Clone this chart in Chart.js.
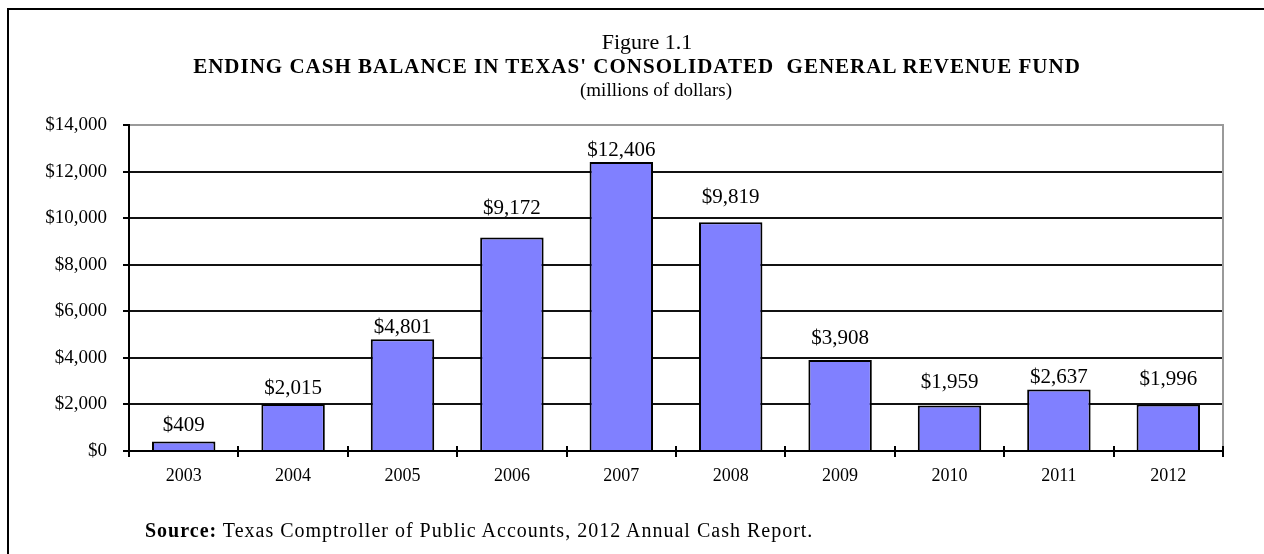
<!DOCTYPE html>
<html>
<head>
<meta charset="utf-8">
<script src="https://cdn.jsdelivr.net/npm/chart.js@4.4.1/dist/chart.umd.min.js"></script>
<style>
  body { margin: 0; background: #fff; }
  #wrap { position: relative; width: 1264px; height: 554px; overflow: hidden; font-family: "Liberation Serif", "Times New Roman", serif; color: #000; }
  #frame { position: absolute; left: 7px; top: 8px; width: 1400px; height: 700px; border-left: 2px solid #000; border-top: 2px solid #000; }
  .txt { position: absolute; white-space: nowrap; }
  canvas { position: absolute; left: 0; top: 0; }
</style>
</head>
<body>
<div id="wrap">
  <div id="frame"></div>
  <canvas id="grafico" width="1264" height="554"></canvas>
  <div class="txt" style="left:347px;width:600px;text-align:center;top:30.6px;font-size:22px;line-height:22px;">Figure 1.1</div>
  <div class="txt" style="left:87px;width:1100px;text-align:center;top:56.4px;font-size:21px;line-height:21px;font-weight:bold;letter-spacing:1px;">ENDING CASH BALANCE IN TEXAS' CONSOLIDATED&nbsp; GENERAL REVENUE FUND</div>
  <div class="txt" style="left:356px;width:600px;text-align:center;top:80.1px;font-size:19px;line-height:19px;">(millions of dollars)</div>
  <div class="txt" style="left:145px;top:520.3px;font-size:20px;line-height:20px;letter-spacing:1px;"><b>Source:</b> Texas Comptroller of Public Accounts, 2012 Annual Cash Report.</div>
</div>
<script>
  // datos
  const anios = ['2003', '2004', '2005', '2006', '2007', '2008', '2009', '2010', '2011', '2012'];
  const saldo = [409, 2015, 4801, 9172, 12406, 9819, 3908, 1959, 2637, 1996];
  const ticksY = [0, 2000, 4000, 6000, 8000, 10000, 12000, 14000];

  // separacion de cada etiqueta sobre su barra (px), como en el original
  const separacionEtiqueta = [10, 10, 6, 23, 6, 19, 16, 17, 7, 20];

  const dinero = v => '$' + Number(v).toLocaleString('en-US');
  const fuente = '"Liberation Serif", "Times New Roman", serif';

  // etiquetas de datos, borde gris del area y marcas cruzadas del eje X
  const extras = {
    id: 'extras',
    afterDatasetsDraw(chart) {
      const ctx = chart.ctx;
      const area = chart.chartArea;
      const x = chart.scales.x;

      ctx.save();
      // borde derecho gris
      ctx.strokeStyle = '#9a9a9a';
      ctx.lineWidth = 2;
      ctx.beginPath();
      ctx.moveTo(area.right, area.top - 1);
      ctx.lineTo(area.right, area.bottom);
      ctx.stroke();

      // eje X y marcas
      ctx.strokeStyle = '#000';
      ctx.lineWidth = 2;
      ctx.beginPath();
      ctx.moveTo(area.left, area.bottom);
      ctx.lineTo(area.right, area.bottom);
      for (let i = 0; i <= anios.length; i++) {
        const px = Math.round(x.getPixelForValue(i - 0.5));
        ctx.moveTo(px, area.bottom - 5);
        ctx.lineTo(px, area.bottom + 6);
      }
      ctx.stroke();

      // etiquetas
      ctx.fillStyle = '#000';
      ctx.font = '21px ' + fuente;
      ctx.textAlign = 'center';
      ctx.textBaseline = 'alphabetic';
      chart.getDatasetMeta(0).data.forEach((bar, i) => {
        ctx.fillText(dinero(saldo[i]), bar.x, bar.y - separacionEtiqueta[i]);
      });
      ctx.restore();
    }
  };

  new Chart(document.getElementById('grafico').getContext('2d'), {
    type: 'bar',
    data: {
      labels: anios,
      datasets: [{
        data: saldo,
        backgroundColor: '#8080ff',
        borderColor: '#000',
        borderWidth: 2,
        categoryPercentage: 1,
        barPercentage: 0.58
      }]
    },
    options: {
      responsive: false,
      animation: false,
      events: [],
      layout: { padding: { left: 0, right: 41, top: 125, bottom: 0 } },
      plugins: {
        legend: { display: false },
        title: { display: false },
        tooltip: { enabled: false }
      },
      scales: {
        x: {
          grid: { display: false, drawTicks: false },
          border: { display: false },
          ticks: {
            color: '#000',
            padding: 14,
            font: { family: fuente, size: 18 }
          },
          afterFit(s) { s.height = 103; }
        },
        y: {
          min: 0,
          max: 14000,
          afterBuildTicks(s) { s.ticks = ticksY.map(v => ({ value: v })); },
          grid: {
            color: ctx => (ctx.tick && ctx.tick.value === 14000 ? '#9a9a9a' : '#111'),
            lineWidth: 2,
            tickColor: '#000',
            tickLength: 6,
            tickWidth: 2
          },
          border: { color: '#000', width: 2 },
          ticks: {
            color: '#000',
            padding: 16,
            font: { family: fuente, size: 19 },
            callback: v => dinero(v)
          },
          afterFit(s) { s.width = 129; }
        }
      }
    },
    plugins: [extras]
  });
</script>
</body>
</html>
